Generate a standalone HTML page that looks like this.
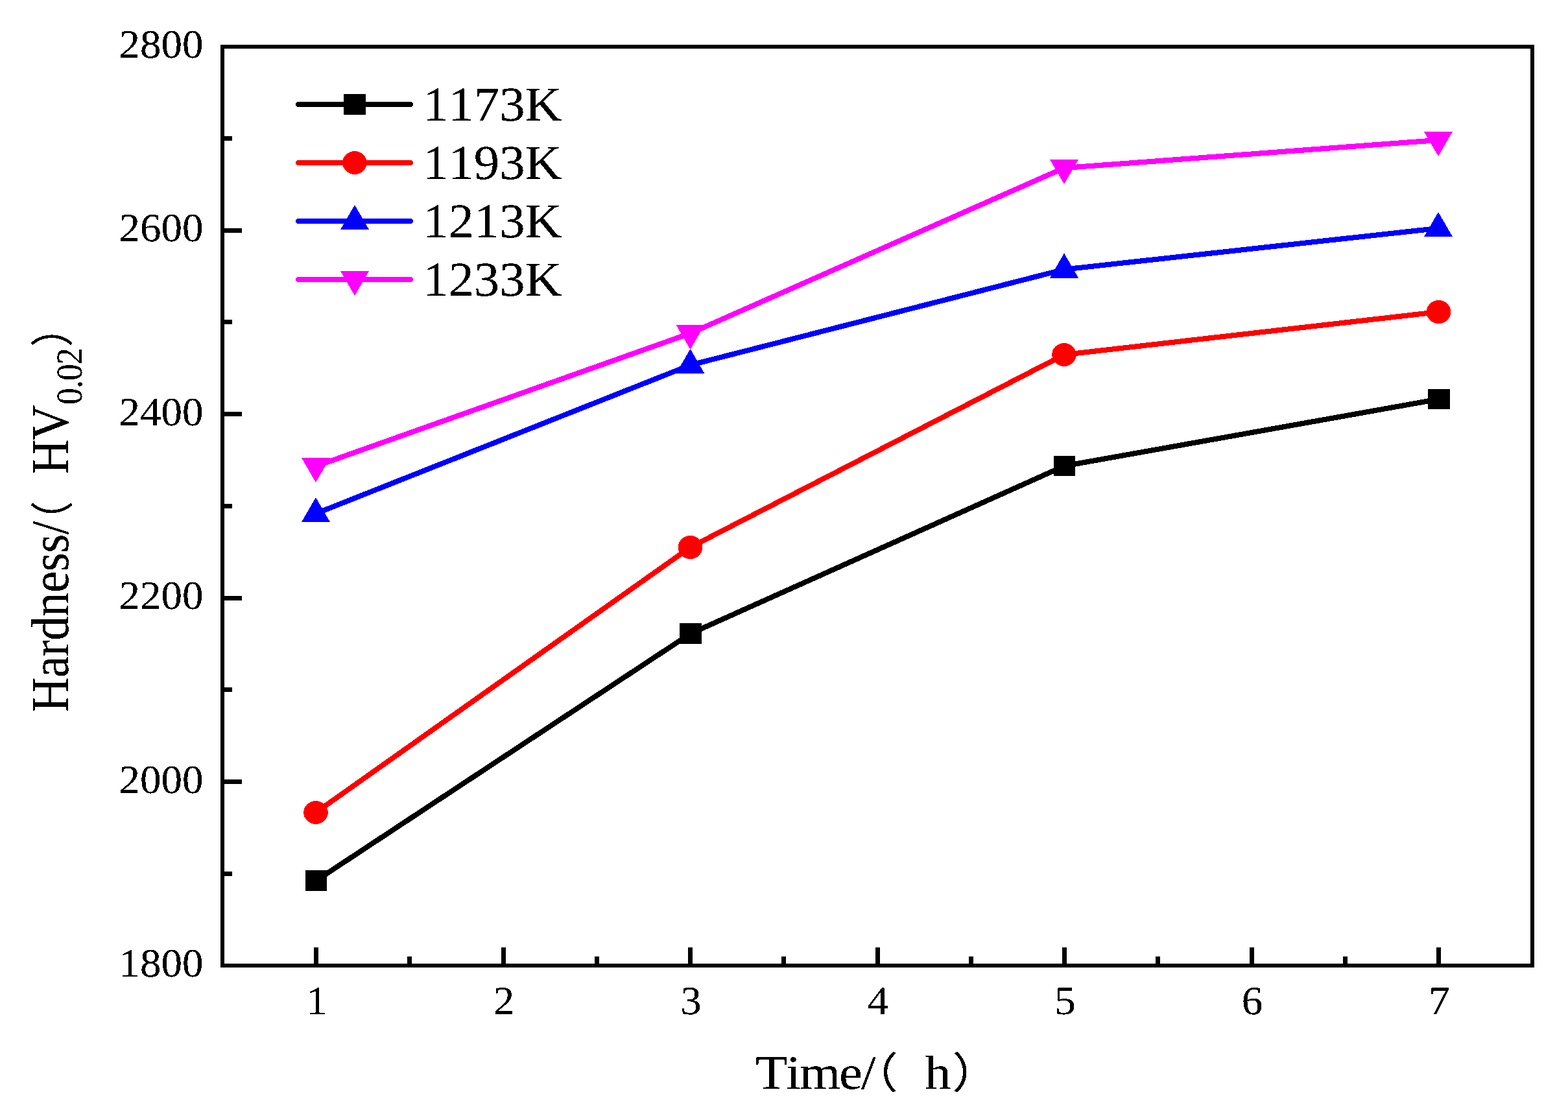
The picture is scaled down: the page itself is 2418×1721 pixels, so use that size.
<!DOCTYPE html>
<html lang="en"><head><meta charset="utf-8"><title>Hardness/(HV0.02) - Time/(h)</title>
<style>html,body{margin:0;padding:0;background:#fff}body{width:2418px;height:1721px;overflow:hidden}svg{display:block}text{font-family:'Liberation Serif','Noto Serif CJK SC',serif;fill:#000;font-kerning:none;font-variant-ligatures:none;text-rendering:geometricPrecision}</style></head><body>
<svg width="2418" height="1721" viewBox="0 0 2418 1721" role="img" shape-rendering="crispEdges">
<rect x="0" y="0" width="2418" height="1721" fill="#fff"/>
<g fill="none" stroke-width="8.1" stroke-linejoin="round" stroke-linecap="round">
<polyline stroke="#000000" points="487.5,1358.0 1065.0,977.0 1641.5,718.5 2219.0,615.5"/>
<polyline stroke="#ff0000" points="487.0,1253.0 1064.5,844.0 1641.0,547.0 2218.5,481.0"/>
<polyline stroke="#0000ff" points="487.0,792.0 1064.5,563.0 1641.0,415.5 2218.0,352.0"/>
<polyline stroke="#ff00ff" points="487.0,719.0 1064.5,514.0 1641.0,259.0 2218.0,216.0"/>
</g>
<rect x="470.7" y="1342.2" width="33.6" height="31.6" fill="#000000"/>
<rect x="1048.2" y="961.2" width="33.6" height="31.6" fill="#000000"/>
<rect x="1624.7" y="702.7" width="33.6" height="31.6" fill="#000000"/>
<rect x="2202.2" y="599.7" width="33.6" height="31.6" fill="#000000"/>
<ellipse cx="487.0" cy="1253.0" rx="18.8" ry="18" fill="#ff0000"/>
<ellipse cx="1064.5" cy="844.0" rx="18.8" ry="18" fill="#ff0000"/>
<ellipse cx="1641.0" cy="547.0" rx="18.8" ry="18" fill="#ff0000"/>
<ellipse cx="2218.5" cy="481.0" rx="18.8" ry="18" fill="#ff0000"/>
<polygon points="487.0,767.0 509.0,805.0 465.0,805.0" fill="#0000ff"/>
<polygon points="1064.5,538.0 1086.5,576.0 1042.5,576.0" fill="#0000ff"/>
<polygon points="1641.0,390.5 1663.0,428.5 1619.0,428.5" fill="#0000ff"/>
<polygon points="2218.0,327.0 2240.0,365.0 2196.0,365.0" fill="#0000ff"/>
<polygon points="465.0,706.0 509.0,706.0 487.0,744.0" fill="#ff00ff"/>
<polygon points="1042.5,501.0 1086.5,501.0 1064.5,539.0" fill="#ff00ff"/>
<polygon points="1619.0,246.0 1663.0,246.0 1641.0,284.0" fill="#ff00ff"/>
<polygon points="2196.0,203.0 2240.0,203.0 2218.0,241.0" fill="#ff00ff"/>
<line x1="460" y1="161" x2="633" y2="161" stroke="#000000" stroke-width="8" stroke-linecap="round"/>
<rect x="530.2" y="145.2" width="33.6" height="31.6" fill="#000000"/>
<line x1="460" y1="251" x2="633" y2="251" stroke="#ff0000" stroke-width="8" stroke-linecap="round"/>
<ellipse cx="547.0" cy="251.0" rx="18.8" ry="18" fill="#ff0000"/>
<line x1="460" y1="341" x2="633" y2="341" stroke="#0000ff" stroke-width="8" stroke-linecap="round"/>
<polygon points="547.0,316.0 569.0,354.0 525.0,354.0" fill="#0000ff"/>
<line x1="460" y1="431" x2="633" y2="431" stroke="#ff00ff" stroke-width="8" stroke-linecap="round"/>
<polygon points="525.0,418.0 569.0,418.0 547.0,456.0" fill="#ff00ff"/>
<rect x="343" y="72" width="2020" height="1417" fill="none" stroke="#000" stroke-width="6"/>
<g fill="#000">
<rect x="343" y="1343.8" width="15" height="7"/>
<rect x="343" y="1202.0" width="30" height="7"/>
<rect x="343" y="1060.2" width="15" height="7"/>
<rect x="343" y="918.5" width="30" height="7"/>
<rect x="343" y="776.8" width="15" height="7"/>
<rect x="343" y="635.0" width="30" height="7"/>
<rect x="343" y="493.2" width="15" height="7"/>
<rect x="343" y="351.5" width="30" height="7"/>
<rect x="343" y="209.8" width="15" height="7"/>
<rect x="484.0" y="1461" width="7" height="28"/>
<rect x="628.2" y="1475" width="7" height="14"/>
<rect x="772.5" y="1461" width="7" height="28"/>
<rect x="916.8" y="1475" width="7" height="14"/>
<rect x="1061.0" y="1461" width="7" height="28"/>
<rect x="1205.2" y="1475" width="7" height="14"/>
<rect x="1349.5" y="1461" width="7" height="28"/>
<rect x="1493.8" y="1475" width="7" height="14"/>
<rect x="1638.0" y="1461" width="7" height="28"/>
<rect x="1782.2" y="1475" width="7" height="14"/>
<rect x="1926.5" y="1461" width="7" height="28"/>
<rect x="2070.8" y="1475" width="7" height="14"/>
<rect x="2215.0" y="1461" width="7" height="28"/>
</g>
<defs><filter id="bin" filterUnits="userSpaceOnUse" x="0" y="0" width="2418" height="1721" color-interpolation-filters="sRGB"><feComponentTransfer><feFuncA type="discrete" tableValues="0 0 1 1 1"/></feComponentTransfer></filter></defs>
<g filter="url(#bin)">
<text transform="translate(652.20,186.00) scale(1.0487,1)" font-size="75.00">1173K</text>
<text transform="translate(652.20,276.00) scale(1.0487,1)" font-size="75.00">1193K</text>
<text transform="translate(652.20,366.00) scale(1.0487,1)" font-size="75.00">1213K</text>
<text transform="translate(652.20,456.00) scale(1.0487,1)" font-size="75.00">1233K</text>
<text transform="translate(313.50,1506.00) scale(1.0480,1)" font-size="62.00" text-anchor="end">1800</text>
<text transform="translate(313.50,1222.50) scale(1.0480,1)" font-size="62.00" text-anchor="end">2000</text>
<text transform="translate(313.50,939.00) scale(1.0480,1)" font-size="62.00" text-anchor="end">2200</text>
<text transform="translate(313.50,655.50) scale(1.0480,1)" font-size="62.00" text-anchor="end">2400</text>
<text transform="translate(313.50,372.00) scale(1.0480,1)" font-size="62.00" text-anchor="end">2600</text>
<text transform="translate(313.50,88.50) scale(1.0480,1)" font-size="62.00" text-anchor="end">2800</text>
<text transform="translate(488.50,1564.00) scale(1.0480,1)" font-size="62.00" text-anchor="middle">1</text>
<text transform="translate(777.00,1564.00) scale(1.0480,1)" font-size="62.00" text-anchor="middle">2</text>
<text transform="translate(1065.50,1564.00) scale(1.0480,1)" font-size="62.00" text-anchor="middle">3</text>
<text transform="translate(1354.00,1564.00) scale(1.0480,1)" font-size="62.00" text-anchor="middle">4</text>
<text transform="translate(1642.50,1564.00) scale(1.0480,1)" font-size="62.00" text-anchor="middle">5</text>
<text transform="translate(1931.00,1564.00) scale(1.0480,1)" font-size="62.00" text-anchor="middle">6</text>
<text transform="translate(2219.50,1564.00) scale(1.0480,1)" font-size="62.00" text-anchor="middle">7</text>
<text transform="translate(0,1679.00) scale(1.1000,1)" font-size="74.00" letter-spacing="-2.00" x="1059.09" y="0">Time/<tspan style="font-family:'Liberation Serif','Noto Sans CJK SC',sans-serif" font-size="65.40" letter-spacing="0" x="1193.55" y="-1.20">（</tspan><tspan letter-spacing="0" x="1296.36" y="0">h</tspan><tspan style="font-family:'Liberation Serif','Noto Sans CJK SC',sans-serif" font-size="65.40" letter-spacing="0" x="1334.91" y="-1.20">）</tspan></text>
<text transform="translate(105.20,0) rotate(-90) scale(1,1.0960)" font-size="75.00" letter-spacing="-0.60" x="-1098.50" y="0">Hardness/<tspan style="font-family:'Liberation Serif','Noto Sans CJK SC',sans-serif" font-size="60.70" letter-spacing="0" x="-833.19" y="-0.66">（</tspan><tspan letter-spacing="-1.50" x="-731.50" y="0">HV</tspan><tspan font-size="51.60" letter-spacing="-0.77" x="-624.10" y="18.55">0.02</tspan><tspan style="font-family:'Liberation Serif','Noto Sans CJK SC',sans-serif" font-size="60.70" letter-spacing="0" x="-535.13" y="-0.66">）</tspan></text>
</g>
</svg></body></html>
